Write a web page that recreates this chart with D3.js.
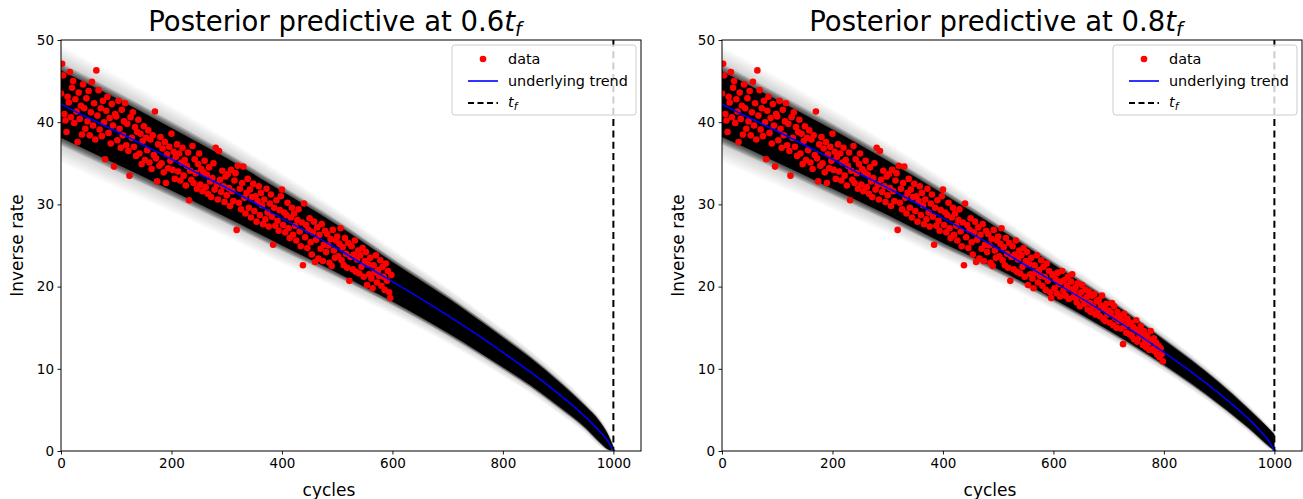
<!DOCTYPE html>
<html>
<head>
<meta charset="utf-8">
<script src="https://cdn.jsdelivr.net/npm/d3@7/dist/d3.min.js"></script>
<style>
  body { margin: 0; background: #fff; }
  text { font-family: "DejaVu Sans", sans-serif; fill: #000; }
</style>
</head>
<body>
<svg id="chart" width="1303" height="499"></svg>
<script>
// observed data, one reading every 2 cycles
const dataX = d3.range(0, 800, 2);
const dataY = [
  43.5, 47.1, 45.7, 41.0, 40.2, 38.8, 43.1, 42.4, 46.1, 40.6,
  44.2, 45.0, 39.9, 42.8, 41.3, 37.6, 43.6, 40.4, 42.0, 38.5,
  44.6, 41.7, 39.2, 42.9, 40.1, 43.8, 38.4, 41.2, 44.9, 39.6,
  42.3, 37.9, 46.3, 40.8, 43.9, 39.1, 41.7, 38.3, 42.6, 40.0,
  35.5, 41.4, 43.1, 38.7, 40.5, 37.4, 42.2, 39.6, 34.6, 41.0,
  40.7, 37.8, 42.6, 39.2, 36.9, 41.5, 38.4, 40.1, 42.3, 37.2,
  39.8, 36.5, 33.5, 40.6, 38.1, 41.2, 37.0, 39.4, 35.9, 38.8,
  40.3, 36.2, 38.6, 34.9, 37.7, 39.5, 35.4, 38.1, 36.6, 39.0,
  35.1, 37.9, 34.3, 38.4, 36.0, 41.3, 35.6, 32.8, 37.3, 34.7,
  38.2, 35.0, 36.8, 33.9, 37.6, 32.6, 36.1, 34.4, 37.0, 35.3,
  38.6, 34.2, 36.4, 33.1, 35.8, 37.3, 34.0, 36.2, 32.9, 35.1,
  36.9, 33.5, 35.4, 32.3, 34.7, 36.3, 30.5, 34.1, 33.0, 37.1,
  32.6, 35.5, 33.8, 31.9, 34.9, 36.2, 32.4, 34.3, 31.6, 33.9,
  35.3, 32.1, 33.6, 31.3, 34.5, 32.8, 30.9, 33.2, 35.0, 31.8,
  36.9, 32.4, 30.6, 36.5, 33.0, 31.5, 34.1, 32.2, 30.3, 33.4,
  31.1, 33.7, 32.0, 29.8, 34.2, 31.6, 30.4, 32.9, 33.8, 26.9,
  34.7, 30.2, 31.9, 29.4, 32.6, 34.6, 30.8, 28.9, 31.4, 33.1,
  29.6, 31.8, 28.4, 30.9, 32.5, 29.2, 31.0, 27.9, 30.4, 32.2,
  28.7, 31.4, 29.9, 27.6, 30.6, 28.2, 31.9, 29.0, 27.3, 30.1,
  31.2, 28.5, 25.1, 29.6, 27.4, 30.5, 28.0, 26.8, 29.3, 31.0,
  31.8, 27.5, 29.0, 26.6, 28.7, 30.2, 27.1, 25.9, 28.4, 29.6,
  26.3, 28.9, 27.4, 25.6, 28.1, 29.4, 26.7, 24.9, 27.8, 22.6,
  30.1, 26.0, 27.5, 24.7, 26.9, 28.3, 25.4, 23.9, 26.6, 27.9,
  23.0, 25.7, 27.2, 23.4, 26.3, 24.6, 27.6, 23.1, 25.1, 26.8,
  24.2, 26.4, 25.0, 22.9, 25.8, 22.5, 26.9, 24.4, 23.5, 25.6,
  26.1, 23.7, 25.2, 27.1, 23.2, 24.8, 22.6, 25.9, 24.0, 22.3,
  25.3, 20.7, 23.6, 24.9, 22.1, 23.9, 25.6, 21.8, 23.3, 24.4,
  21.6, 23.8, 22.4, 24.7, 21.2, 23.1, 24.2, 20.2, 22.7, 21.5,
  23.5, 21.0, 19.8, 22.6, 21.7, 23.8, 20.5, 22.0, 21.3, 23.2,
  20.1, 22.4, 21.2, 19.6, 22.8, 20.7, 21.9, 19.3, 18.6, 21.4,
  21.5, 19.8, 20.9, 19.2, 21.7, 20.3, 18.8, 20.6, 21.9, 19.5,
  20.8, 18.9, 20.1, 21.2, 18.5, 19.7, 20.6, 21.5, 18.7, 19.4,
  19.9, 18.1, 20.4, 18.8, 17.6, 19.3, 20.2, 18.4, 17.9, 19.6,
  18.7, 17.2, 19.4, 18.0, 16.9, 18.9, 17.5, 19.1, 16.6, 18.2,
  17.0, 18.4, 16.4, 17.7, 18.9, 16.1, 17.3, 15.8, 17.9, 16.6,
  17.1, 15.6, 16.8, 18.0, 15.3, 17.6, 16.2, 15.0, 16.9, 15.8,
  16.4, 14.9, 15.9, 13.0, 16.7, 15.2, 14.4, 16.1, 15.5, 14.2,
  15.6, 14.0, 15.1, 13.6, 14.8, 15.9, 13.3, 14.5, 13.9, 15.2,
  14.1, 12.9, 14.6, 13.4, 12.6, 14.0, 13.1, 12.3, 14.6, 13.5,
  12.4, 13.7, 12.1, 13.2, 11.7, 12.8, 11.4, 12.5, 11.8, 10.9
];

// underlying trend
const trendX = [0, 50, 100, 150, 200, 250, 300, 350, 400, 450, 500, 550, 600, 650, 700, 750, 800, 850, 900, 950, 975, 990, 1000];
const trendY = [42.2, 40.5, 38.9, 37.2, 35.5, 33.7, 32.0, 30.2, 28.3, 26.5, 24.6, 22.6, 20.6, 18.6, 16.5, 14.3, 12.0, 9.6, 7.0, 4.1, 2.4, 1.2, 0];

// posterior predictive envelope (dense core and faint halo)
const bandX = [0, 100, 200, 300, 400, 500, 600, 700, 800, 850, 900, 950, 975, 990, 1000];
const core06Hi = [46.3, 42.9, 39.3, 35.6, 31.6, 27.5, 23.0, 18.6, 13.8, 11.3, 8.5, 5.4, 3.6, 2.0, 0.5];
const core06Lo = [38.1, 34.9, 31.7, 28.4, 25.0, 21.7, 18.2, 14.4, 10.2, 8.0, 5.5, 2.8, 1.1, 0.2, 0];
const halo06Hi = [49.3, 45.7, 41.9, 38.0, 33.8, 29.4, 24.6, 19.9, 14.9, 12.3, 9.4, 6.1, 4.2, 2.6, 0.9];
const halo06Lo = [35.1, 32.1, 29.1, 26.0, 22.8, 19.8, 16.6, 13.1, 9.1, 7.0, 4.6, 2.1, 0.5, 0, 0];
const core08Hi = [46.2, 42.7, 39.1, 35.3, 31.3, 27.1, 22.7, 18.3, 13.5, 11.0, 8.3, 5.3, 3.7, 2.7, 2.0];
const core08Lo = [38.2, 35.1, 31.9, 28.7, 25.3, 22.1, 18.5, 14.7, 10.5, 8.2, 5.7, 3.0, 1.5, 0.6, 0];
const halo08Hi = [49.2, 45.5, 41.6, 37.5, 33.2, 28.7, 24.0, 19.4, 14.4, 11.8, 9.0, 5.9, 4.2, 3.1, 2.4];
const halo08Lo = [35.2, 32.3, 29.4, 26.5, 23.4, 20.5, 17.2, 13.6, 9.6, 7.4, 5.0, 2.4, 1.0, 0.2, 0];

const xTicks = [0, 200, 400, 600, 800, 1000];
const yTicks = [0, 10, 20, 30, 40, 50];
const tf = 1000;

const panels = [
  { frac: "0.6", cut: 600, left: 61, coreHi: core06Hi, coreLo: core06Lo, haloHi: halo06Hi, haloLo: halo06Lo },
  { frac: "0.8", cut: 800, left: 722, coreHi: core08Hi, coreLo: core08Lo, haloHi: halo08Hi, haloLo: halo08Lo }
];

const svg = d3.select("#chart");
const W = 580, plotTop = 40, H = 411;

panels.forEach(function(p, i) {
  let g = svg.append("g").attr("transform", `translate(${p.left},${plotTop})`);
  let x = d3.scaleLinear().domain([0, 1050]).range([0, W]);
  let y = d3.scaleLinear().domain([0, 50]).range([H, 0]);

  let clipId = "clip" + i;
  g.append("clipPath").attr("id", clipId)
    .append("rect").attr("width", W).attr("height", H);
  let plot = g.append("g").attr("clip-path", `url(#${clipId})`);

  // fading layers between core edge (t=0) and halo edge (t=1)
  let fade = function(t0, t1, steps, op) {
    for (let k = steps; k >= 1; k--) {
      let t = t0 + (t1 - t0) * k / steps;
      let area = d3.area()
        .x((d, j) => x(bandX[j]))
        .y0((d, j) => y(p.coreLo[j] + (p.haloLo[j] - p.coreLo[j]) * t))
        .y1((d, j) => y(p.coreHi[j] + (p.haloHi[j] - p.coreHi[j]) * t))
        .curve(d3.curveMonotoneX);
      plot.append("path").datum(bandX)
        .attr("d", area).attr("fill", "#000").attr("fill-opacity", op);
    }
  };
  fade(0, 1, 10, 0.022);
  fade(0, 0.3, 6, 0.13);
  let core = d3.area()
    .x((d, j) => x(bandX[j]))
    .y0((d, j) => y(p.coreLo[j]))
    .y1((d, j) => y(p.coreHi[j]))
    .curve(d3.curveMonotoneX);
  plot.append("path").datum(bandX).attr("d", core).attr("fill", "#000");

  // data
  let pts = dataX.map((v, j) => ({ x: v, y: dataY[j] })).filter(d => d.x < p.cut);
  plot.selectAll("circle.dot").data(pts).enter().append("circle")
    .attr("class", "dot")
    .attr("cx", d => x(d.x)).attr("cy", d => y(d.y))
    .attr("r", 3.3).attr("fill", "#ff0000");

  // trend
  let line = d3.line()
    .x((d, j) => x(trendX[j]))
    .y(d => y(d))
    .curve(d3.curveMonotoneX);
  plot.append("path").datum(trendY).attr("d", line)
    .attr("fill", "none").attr("stroke", "#0000ff").attr("stroke-width", 1.6);
  plot.append("circle").attr("cx", x(tf)).attr("cy", y(0)).attr("r", 2.2).attr("fill", "#4a9cff");

  // t_f
  g.append("line")
    .attr("x1", x(tf)).attr("x2", x(tf)).attr("y1", 0).attr("y2", H)
    .attr("stroke", "#000").attr("stroke-width", 2).attr("stroke-dasharray", "7,4.3");

  // axes
  let xa = g.append("g").attr("transform", `translate(0,${H})`)
    .call(d3.axisBottom(x).tickValues(xTicks).tickFormat(d3.format("d")).tickSize(3.5).tickPadding(3.5));
  let ya = g.append("g")
    .call(d3.axisLeft(y).tickValues(yTicks).tickFormat(d3.format("d")).tickSize(3.5).tickPadding(3.5));
  [xa, ya].forEach(a => {
    a.select(".domain").remove();
    a.selectAll("text").attr("font-size", 13.5).attr("font-family", "DejaVu Sans").attr("fill", "#000");
    a.selectAll("line").attr("stroke", "#000").attr("stroke-width", 0.9);
  });
  g.append("rect").attr("width", W).attr("height", H)
    .attr("fill", "none").attr("stroke", "#000").attr("stroke-width", 1);

  // labels
  g.append("text").attr("x", W / 2 - 22).attr("y", H + 45)
    .attr("text-anchor", "middle").attr("font-size", 17).text("cycles");
  g.append("text").attr("transform", `translate(-38,${H / 2}) rotate(-90)`)
    .attr("text-anchor", "middle").attr("font-size", 17).text("Inverse rate");

  let title = g.append("text").attr("x", W / 2 - 16).attr("y", -9)
    .attr("text-anchor", "middle").attr("font-size", 27.5);
  title.append("tspan").text("Posterior predictive at " + p.frac);
  title.append("tspan").attr("font-style", "italic").text("t");
  title.append("tspan").attr("font-style", "italic").attr("font-size", 19).attr("dy", 5).text("f");

  // legend
  let lg = g.append("g").attr("transform", `translate(${W - 189},5)`);
  lg.append("rect").attr("width", 184).attr("height", 70).attr("rx", 3)
    .attr("fill", "#fff").attr("fill-opacity", 0.8)
    .attr("stroke", "#cccccc").attr("stroke-width", 1);
  lg.append("circle").attr("cx", 31).attr("cy", 14).attr("r", 3.3).attr("fill", "#ff0000");
  lg.append("line").attr("x1", 16).attr("x2", 46).attr("y1", 36).attr("y2", 36)
    .attr("stroke", "#0000ff").attr("stroke-width", 1.6);
  lg.append("line").attr("x1", 16).attr("x2", 46).attr("y1", 58).attr("y2", 58)
    .attr("stroke", "#000").attr("stroke-width", 2).attr("stroke-dasharray", "6,3.5");
  lg.append("text").attr("x", 56).attr("y", 19).attr("font-size", 14.4).text("data");
  lg.append("text").attr("x", 56).attr("y", 41).attr("font-size", 14.4).text("underlying trend");
  let lt = lg.append("text").attr("x", 56).attr("y", 62).attr("font-size", 14.4);
  lt.append("tspan").attr("font-style", "italic").text("t");
  lt.append("tspan").attr("font-style", "italic").attr("font-size", 10.5).attr("dy", 3).text("f");
});
</script>
</body>
</html>
